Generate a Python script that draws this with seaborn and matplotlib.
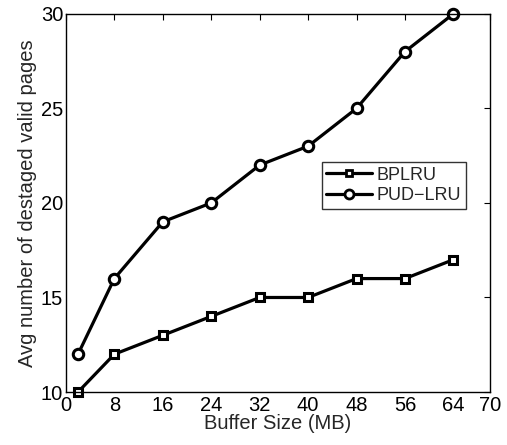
import matplotlib
matplotlib.use("Agg")
import matplotlib.pyplot as plt
import seaborn as sns
import pandas as pd

buffer_sizes = [2, 8, 16, 24, 32, 40, 48, 56, 64]
bplru = [10, 12, 13, 14, 15, 15, 16, 16, 17]
pudlru = [12, 16, 19, 20, 22, 23, 25, 28, 30]
x_ticks = [0, 8, 16, 24, 32, 40, 48, 56, 64, 70]
y_ticks = [10, 15, 20, 25, 30]

sns.set_style("white")
plt.rcParams['font.family'] = ['Liberation Sans', 'DejaVu Sans']

df = pd.DataFrame({
    "Buffer": buffer_sizes * 2,
    "Value": bplru + pudlru,
    "Scheme": ["BPLRU"] * len(bplru) + ["PUD\u2212LRU"] * len(pudlru),
})

fig = plt.figure(figsize=(5.07, 4.45), dpi=100)
ax = fig.add_axes([0.130, 0.119, 0.836, 0.850])

sns.lineplot(data=df, x="Buffer", y="Value", hue="Scheme", style="Scheme",
             markers={"BPLRU": "s", "PUD\u2212LRU": "o"}, dashes=False,
             palette={"BPLRU": "black", "PUD\u2212LRU": "black"},
             linewidth=2.3, markersize=7, markerfacecolor="white",
             markeredgecolor="black", markeredgewidth=2.2, ax=ax, clip_on=False)

for ln in ax.lines:
    if ln.get_marker() == "s":
        ln.set_markersize(6)
    elif ln.get_marker() == "o":
        ln.set_markersize(7.5)

ax.set_xlim(0, 70)
ax.set_ylim(10, 30)
ax.set_xticks(x_ticks)
ax.set_yticks(y_ticks)
ax.tick_params(direction="in", top=True, right=True, length=4, width=0.8,
               labelsize=14.5, colors="black")
ax.tick_params(axis="x", pad=3)
ax.tick_params(axis="y", pad=2)
for s in ax.spines.values():
    s.set_color("black")
    s.set_linewidth(1.0)
ax.set_xlabel("Buffer Size (MB)", fontsize=14.5, labelpad=-1)
ax.set_ylabel("Avg number of destaged valid pages", fontsize=14.5, labelpad=3)

h, l = ax.get_legend_handles_labels()
for hh in h:
    if hh.get_marker() == "s":
        hh.set_markersize(5)
    else:
        hh.set_markersize(6.5)
    hh.set_markeredgewidth(2.0)
leg = ax.legend(h, l, loc="upper left", bbox_to_anchor=(0.604, 0.608),
                frameon=True, fontsize=13, fancybox=False, edgecolor="black",
                handlelength=2.5, borderpad=0.25, labelspacing=0.2,
                handletextpad=0.3, borderaxespad=0)
leg.get_frame().set_linewidth(1.0)

fig.savefig("out.png", dpi=100)
